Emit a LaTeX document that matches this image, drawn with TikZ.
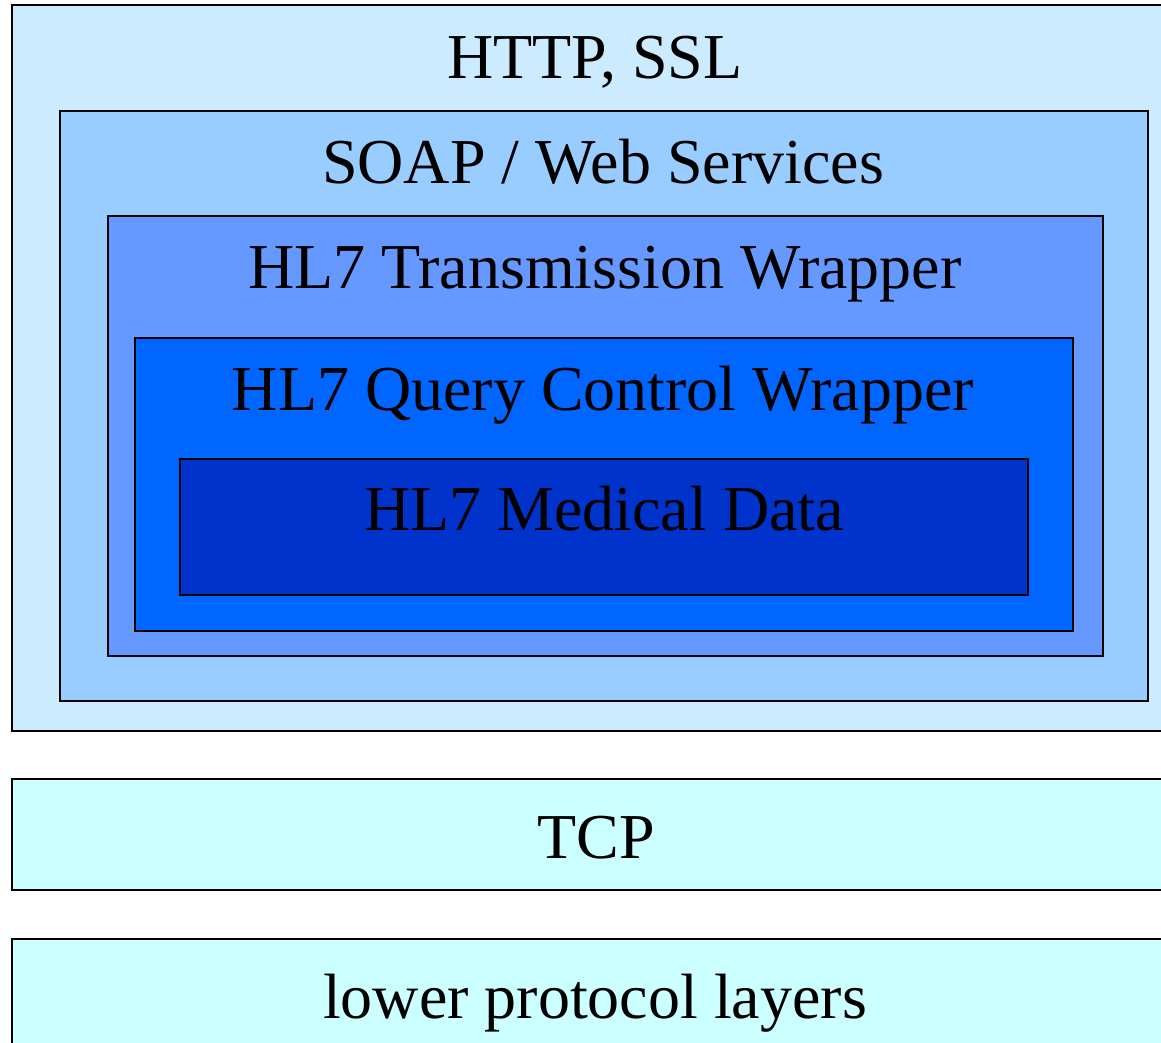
\documentclass[tikz,border=0pt]{standalone}
\usepackage{fontspec}
\setmainfont{Liberation Serif}
\definecolor{cHttp}{HTML}{CCEBFF}
\definecolor{cSoap}{HTML}{99CCFF}
\definecolor{cTrans}{HTML}{6699FF}
\definecolor{cQuery}{HTML}{0066FF}
\definecolor{cMed}{HTML}{0033CC}
\definecolor{cTcp}{HTML}{CCFFFF}
\tikzset{
  layer/.style={draw=black, line width=2pt, rectangle, inner sep=0pt, outer sep=0pt},
  lbl/.style={anchor=base, inner sep=0pt, font=\fontsize{64}{68}\selectfont}
}
\begin{document}
\begin{tikzpicture}[x=1pt,y=-1pt]
\useasboundingbox (0,0) rectangle (1161,1043);
\clip (0,0) rectangle (1161,1043);
\fill[white] (0,0) rectangle (1161,1043);
\node[layer, fill=cHttp, minimum width=1168pt, minimum height=726pt] (http) at (596,368) {};
\node[layer, fill=cSoap, minimum width=1088pt, minimum height=590pt] (soap) at (604,406) {};
\node[layer, fill=cTrans, minimum width=995pt, minimum height=440pt] (trans) at (605.5,436) {};
\node[layer, fill=cQuery, minimum width=938pt, minimum height=293pt] (query) at (604,484.5) {};
\node[layer, fill=cMed, minimum width=848pt, minimum height=136pt] (med) at (604,527) {};
\node[layer, fill=cTcp, minimum width=1168pt, minimum height=111pt] (tcp) at (596,834.5) {};
\node[layer, fill=cTcp, minimum width=1168pt, minimum height=140pt] (lower) at (596,1009) {};
\node[lbl] (thttp) at (595,79) {HTTP, SSL};
\node[lbl] (tsoap) at (603,183) {SOAP / Web Services};
\node[lbl] (ttrans) at (605,288) {HL7 Transmission Wrapper};
\node[lbl] (tquery) at (603,410) {HL7 Query Control Wrapper};
\node[lbl] (tmed) at (604,530) {HL7 Medical Data};
\node[lbl] (ttcp) at (596,858) {TCP};
\node[lbl] (tlower) at (595,1018) {lower protocol layers};
\end{tikzpicture}
\end{document}
